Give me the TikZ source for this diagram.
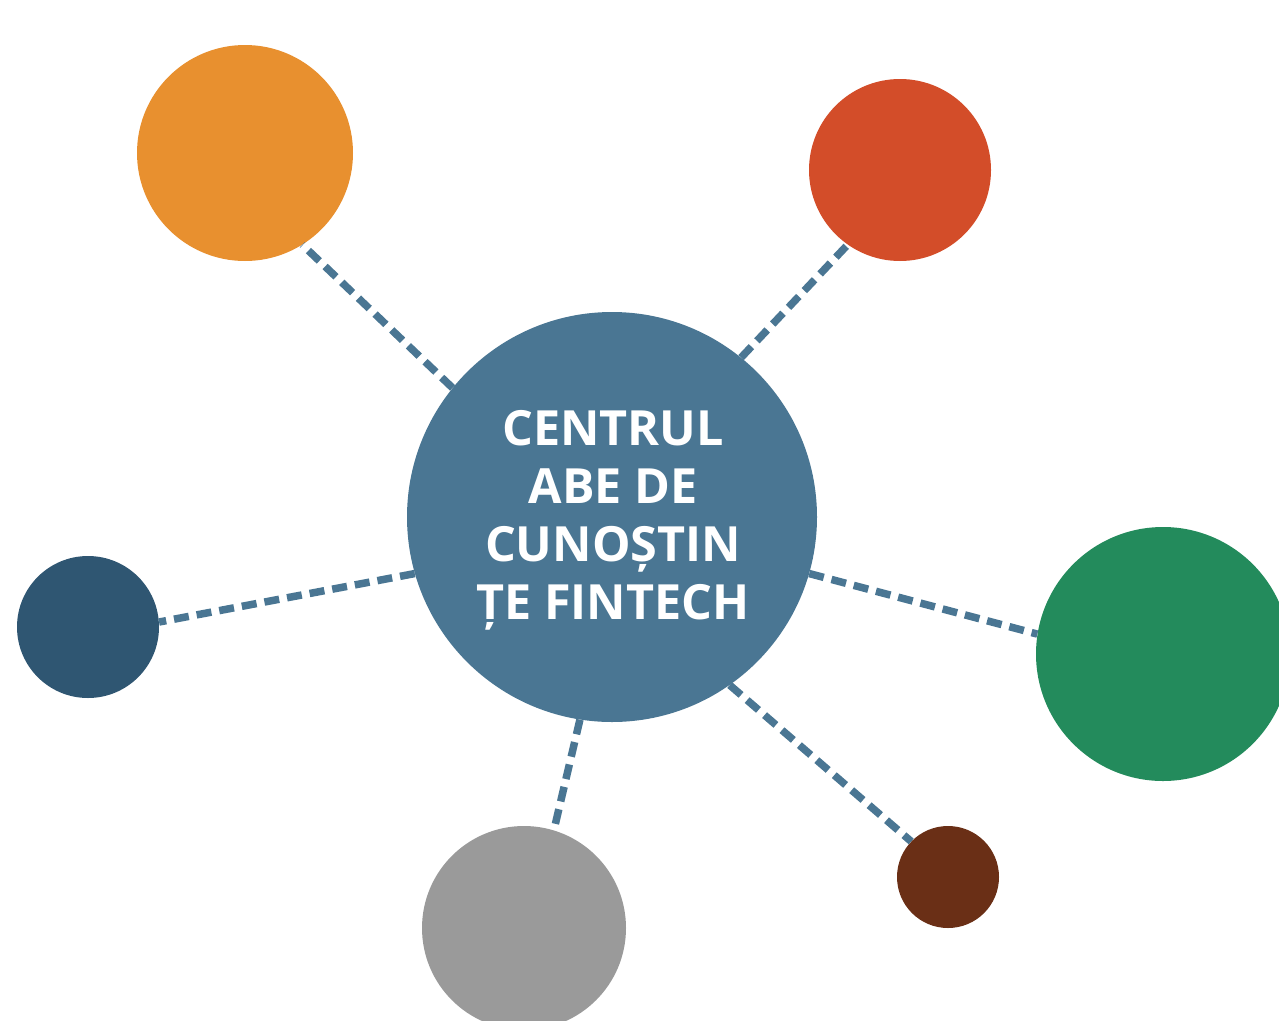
\documentclass[tikz,border=0pt]{standalone}
\usepackage{fontspec}
\setmainfont{Open Sans}
\definecolor{hubblue}{HTML}{4A7693}
\definecolor{corange}{HTML}{E8902F}
\definecolor{cred}{HTML}{D34D29}
\definecolor{cnavy}{HTML}{2F5672}
\definecolor{cgreen}{HTML}{238B5C}
\definecolor{cgray}{HTML}{9A9A9A}
\definecolor{cbrown}{HTML}{6A2F16}
\begin{document}
\begin{tikzpicture}[x=1pt,y=-1pt,
  bubble/.style={circle,draw=none,inner sep=0pt},
  link/.style={draw=hubblue,line width=7.5pt,dash pattern=on 15pt off 8pt}]
\useasboundingbox (0,0) rectangle (1279,1020);
\begin{scope}
\clip (0,0) rectangle (1279,1020);
\node[bubble,fill=hubblue,minimum size=410pt] (hub) at (612,517) {};
\node[text=white,align=center,inner sep=0pt,
  font=\fontsize{48.5}{58}\selectfont\bfseries] (hubtext) at (613,520)
  {CENTRUL\\ABE DE\\CUNOȘTIN\\ȚE FINTECH};
\node[bubble,fill=corange,minimum size=216pt] (orange) at (245,153) {};
\node[bubble,fill=cred,minimum size=182pt] (red) at (900,170) {};
\node[bubble,fill=cnavy,minimum size=142pt] (navy) at (88,627) {};
\node[bubble,fill=cgreen,minimum size=254pt] (green) at (1163,654) {};
\node[bubble,fill=cgray,minimum size=204pt] (gray) at (524,928) {};
\node[bubble,fill=cbrown,minimum size=102pt] (brown) at (948,877) {};
\draw[link] (hub.141.6) -- (orange.-58.2);
\draw[link] (hub.51.3) -- (red.-125.5);
\draw[link] (hub.196.5) -- (navy.4);
\draw[link] (hub.-16.5) -- (green.171);
\draw[link] (hub.-99) -- (gray.73.7);
\draw[link] (hub.-55.8) -- (brown.136.6);
\end{scope}
\end{tikzpicture}
\end{document}
